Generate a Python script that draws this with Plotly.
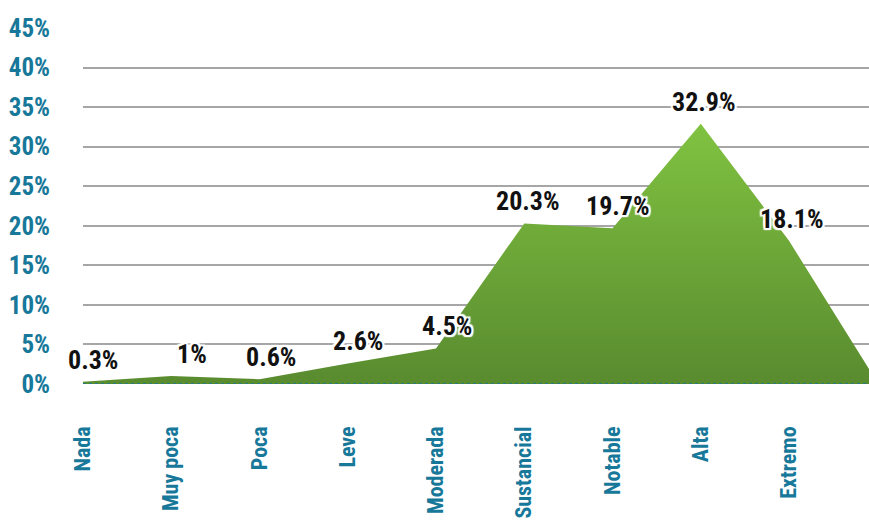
import plotly.graph_objects as go

categories = ["Nada", "Muy poca", "Poca", "Leve", "Moderada", "Sustancial", "Notable", "Alta", "Extremo", ""]
values = [0.3, 1.0, 0.6, 2.6, 4.5, 20.3, 19.7, 32.9, 18.1, 0.2]
labels = ["0.3%", "1%", "0.6%", "2.6%", "4.5%", "20.3%", "19.7%", "32.9%", "18.1%", ""]
y_ticks = [0, 5, 10, 15, 20, 25, 30, 35, 40, 45]
y_ticktext = [f"{v}%" for v in y_ticks]

# label placement (style only)
label_dx = [10, 21, 11, 10, 11, 4, 5, 3, 3, 0]

FONT = "Roboto Condensed, Open Sans Condensed, Roboto, sans-serif"
TEAL = "#17789a"

xs = list(range(len(categories)))

fig = go.Figure()
fig.add_trace(go.Scatter(
    x=xs, y=values, mode="lines", line=dict(width=0, color="#6aa536"),
    fill="tozeroy",
    fillgradient=dict(type="vertical", colorscale=[[0, "#598b2f"], [1, "#80c241"]]),
    hoverinfo="skip", showlegend=False,
))

halo = ("2px 0 1px white, -2px 0 1px white, 0 2px 1px white, 0 -2px 1px white, "
        "2px 2px 1px white, -2px -2px 1px white, 2px -2px 1px white, -2px 2px 1px white")
for x, v, t, dx in zip(xs, values, labels, label_dx):
    if not t:
        continue
    fig.add_annotation(x=x, y=v, text=t, showarrow=False, xshift=dx, yshift=22,
                       font=dict(family=FONT, size=26, color="#111111", weight="bold", shadow=halo))

fig.update_layout(
    width=869, height=521,
    margin=dict(l=83, r=0, t=28, b=137, autoexpand=False),
    plot_bgcolor="white", paper_bgcolor="white",
    font=dict(family=FONT),
)
fig.update_xaxes(
    range=[0, 8.906], tickmode="array", tickvals=xs[:9], ticktext=categories[:9],
    tickangle=-90, showgrid=False, zeroline=False, showline=False, automargin=False,
    tickfont=dict(family=FONT, size=22, color=TEAL, weight="bold"),
    ticks="", ticklabelstandoff=37,
)
fig.update_yaxes(
    range=[0, 45], tickmode="array", tickvals=y_ticks, ticktext=y_ticktext,
    showgrid=True, gridcolor="#a6a6a6", gridwidth=1.5, zeroline=False, automargin=False,
    tickfont=dict(family=FONT, size=25, color=TEAL, weight="bold"),
    ticks="", ticklabelstandoff=32,
)
fig.add_shape(type="line", xref="paper", yref="y", x0=0, x1=1, y0=0, y1=0,
              line=dict(color=TEAL, width=1.5, dash="dot"))

fig.write_html("out.html", config={"displayModeBar": False},
               post_script="document.body.style.margin='0';document.body.style.overflow='hidden';")
